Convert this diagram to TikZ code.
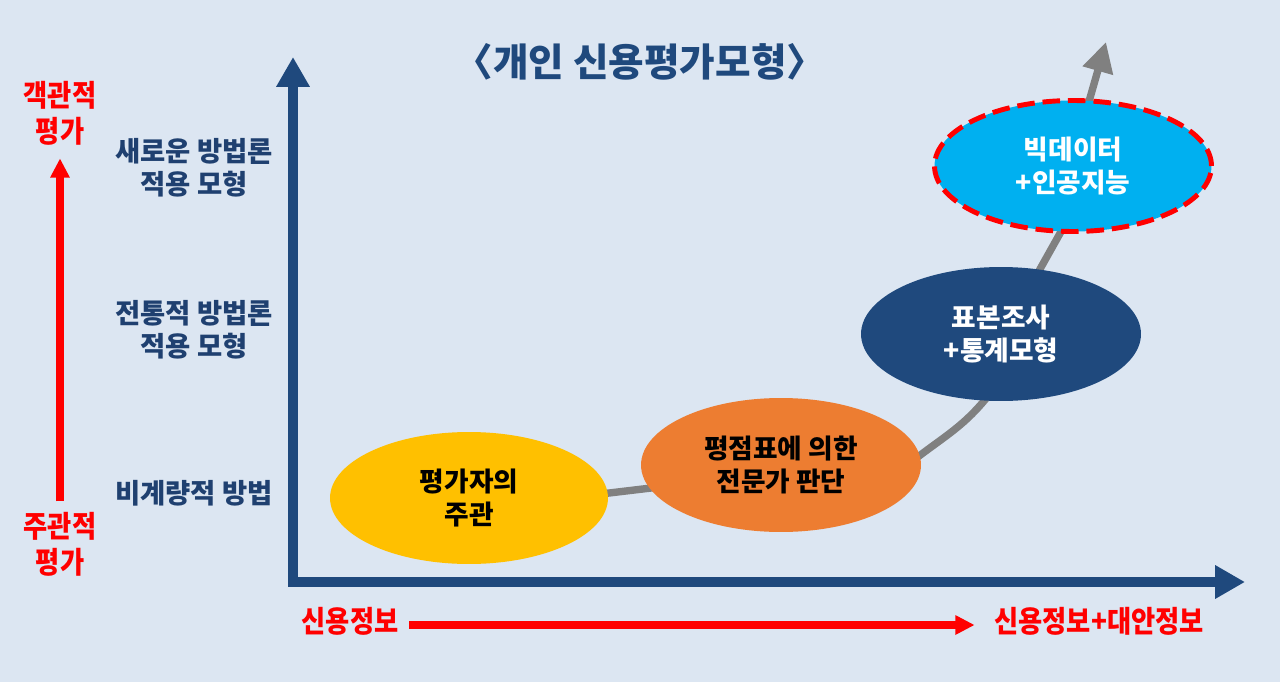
\documentclass[tikz,border=0pt]{standalone}
\usepackage{fontspec}
\usepackage{graphicx}
\setmainfont{Noto Sans CJK KR}
\usetikzlibrary{arrows.meta,shapes.geometric}
\pgfdeclarelayer{paper}
\pgfdeclarelayer{under}
\pgfsetlayers{paper,under,main}
\definecolor{bgc}{HTML}{DCE6F2}
\definecolor{axisblue}{HTML}{1F497D}
\definecolor{textblue}{HTML}{1F4070}
\definecolor{ylw}{HTML}{FFC000}
\definecolor{org}{HTML}{ED7D31}
\definecolor{sky}{HTML}{00B0F0}
\definecolor{flowgray}{HTML}{808080}
\newcommand{\narrowred}[1]{\scalebox{0.88}[1]{\begin{tabular}{@{}c@{}}#1\end{tabular}}}

\begin{document}
\begin{tikzpicture}[x=0.02cm, y=-0.02cm,
  axis/.style={draw=axisblue, line width=5.7pt, line cap=rect, -{Triangle[length=17pt,width=18pt]}},
  redarrow/.style={draw=red, line width=4pt, -{Triangle[length=11pt,width=10.5pt]}},
  flow/.style={draw=flowgray, line width=4.2pt},
  blob/.style={ellipse, inner sep=0pt, align=center, font=\bfseries\fontsize{15.2pt}{19pt}\selectfont},
  level/.style={align=center, text=textblue, font=\bfseries\fontsize{15.6pt}{18.5pt}\selectfont},
  redlab/.style={text=red, inner sep=0pt, font=\bfseries\fontsize{17pt}{20pt}\selectfont}]
\begin{pgfonlayer}{paper}
\fill[bgc] (0,0) rectangle (1280,682);
\end{pgfonlayer}
\useasboundingbox (0,0) rectangle (1280,682);
% title
\node[text=axisblue, font=\bfseries\fontsize{22pt}{24pt}\selectfont] (title) at (640,62) {〈개인 신용평가모형〉};
% axes
\coordinate (origin) at (293,582);
\coordinate (ytip) at (293,57);
\coordinate (xtip) at (1245,582);
\draw[axis] (origin) -- (ytip);
\draw[axis] (origin) -- (xtip);
% levels on the y axis
\node[level] (lvnew) at (194,168) {새로운 방법론\\적용 모형};
\node[level] (lvtrad) at (194,330) {전통적 방법론\\적용 모형};
\node[level] (lvqual) at (194,493) {비계량적 방법};
% red side labels
\node[redlab] (obj) at (60,117) {\narrowred{객관적\\평가}};
\node[redlab] (subj) at (60,548) {\narrowred{주관적\\평가}};
\draw[redarrow, shorten <=6pt, shorten >=3pt] (subj) -- (obj);
\node[redlab] (info) at (350,625) {\narrowred{신용정보}};
\node[redlab] (altinfo) at (1099,625) {\narrowred{신용정보+대안정보}};
\draw[redarrow, shorten <=6pt, shorten >=11pt] (info) -- (altinfo);
% models
\node[blob, fill=ylw, minimum width=5.56cm, minimum height=2.64cm] (subjective) at (469,498) {평가자의\\주관};
\node[blob, fill=org, minimum width=5.6cm, minimum height=2.68cm] (scorecard) at (781,465) {평점표에 의한\\전문가 판단};
\node[blob, fill=axisblue, text=white, minimum width=5.6cm, minimum height=2.68cm] (survey) at (1001,334) {표본조사\\+통계모형};
\node[blob, fill=sky, text=white, draw=red, line width=2.8pt, dash pattern=on 10pt off 4.5pt,
  minimum width=5.54cm, minimum height=2.62cm] (bigdata) at (1073,166) {빅데이터\\+인공지능};
% trend line
\coordinate (trend) at (1106,42);
\begin{pgfonlayer}{under}
\draw[flow, shorten <=-6pt, shorten >=-6pt] (subjective.2) -- (scorecard.190);
\draw[flow, shorten <=-6pt, shorten >=-6pt] (scorecard.4) to[out=38,in=232] (survey.256);
\draw[flow, shorten <=-6pt, shorten >=-6pt] (survey.59) -- (bigdata.259);
\draw[flow, shorten <=-6pt, -{Triangle[length=17pt,width=17pt]}] (bigdata.76) -- (trend);
\end{pgfonlayer}
\end{tikzpicture}
\end{document}
